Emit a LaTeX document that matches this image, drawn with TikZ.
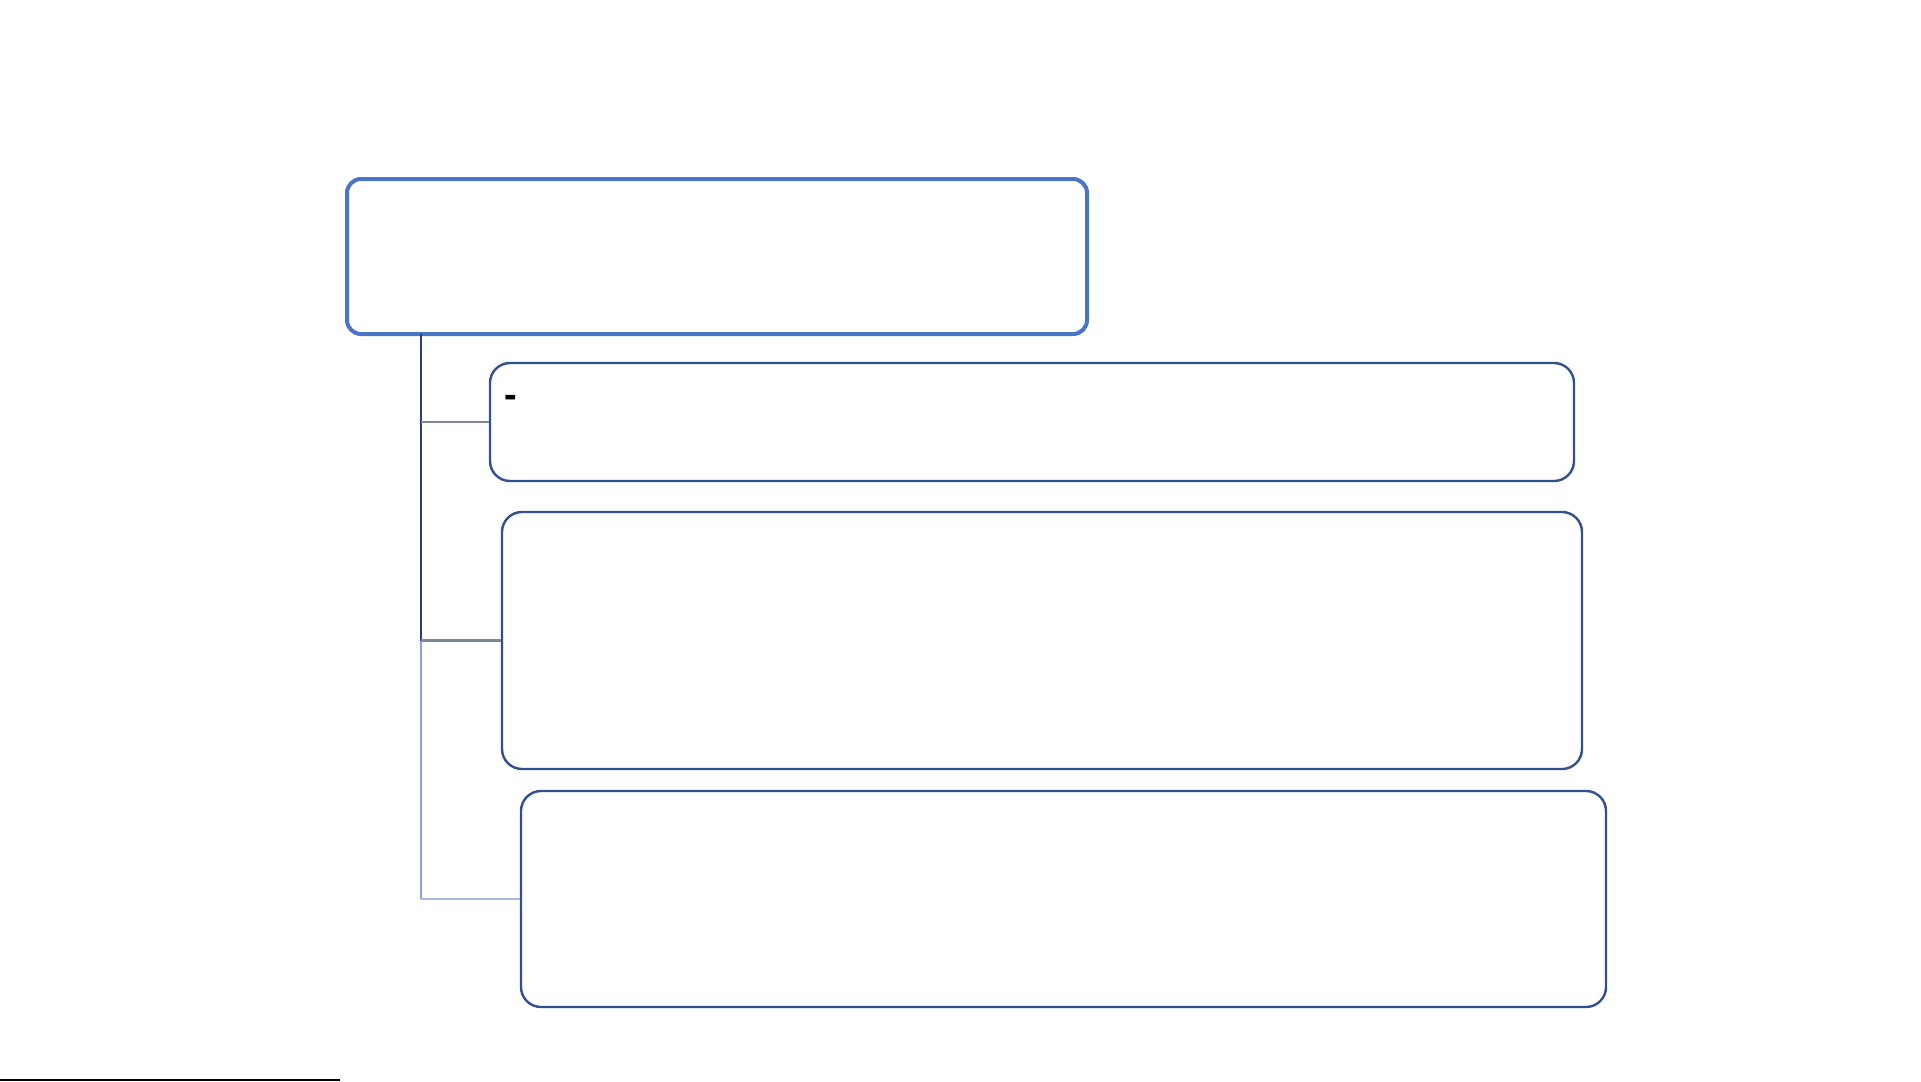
\documentclass[tikz,border=0pt]{standalone}
\usepackage{fontspec}
\setmainfont{Liberation Sans}
\definecolor{rootblue}{HTML}{4A74C6}
\definecolor{boxnavy}{HTML}{31508E}
\definecolor{trunkdark}{HTML}{2A3F70}
\definecolor{branchgray}{HTML}{7C8798}
\definecolor{trunklight}{HTML}{8DA2D4}
\definecolor{branchlight}{HTML}{A8B8E0}
\tikzset{
  rootbox/.style={draw=rootblue, line width=2pt, rounded corners=7pt, fill=white,
    minimum width=370pt, minimum height=77.5pt, inner sep=0pt},
  childbox/.style={draw=boxnavy, line width=1.2pt, rounded corners=10pt, fill=white, inner sep=0pt},
  conn/.style={line width=1.1pt}
}
\begin{document}
\begin{tikzpicture}[x=0.5pt,y=-0.5pt]
\useasboundingbox (0,0) rectangle (1921,1081);
\fill[white] (0,0) rectangle (1921,1081);
% nodes
\node[rootbox] (root) at (717,256.5) {};
\node[childbox, minimum width=542pt, minimum height=59pt] (c1) at (1032,422) {};
\node[childbox, minimum width=540pt, minimum height=128.5pt] (c2) at (1042,640.5) {};
\node[childbox, minimum width=542.5pt, minimum height=108pt] (c3) at (1063.5,899) {};
\node[anchor=west, inner sep=0pt, font=\fontsize{19}{19}\selectfont\bfseries] (dash) at (504,401) {-};
% connectors
\coordinate (t) at (421,334);
\coordinate (j1) at (c1.west -| t);
\coordinate (j2) at (c2.west -| t);
\coordinate (j3) at (c3.west -| t);
\draw[conn, trunkdark] (t) -- (j1) -- (j2);
\draw[conn, trunklight] (j2) -- (j3);
\draw[conn, branchgray] (j1) -- (c1.west);
\draw[conn, branchgray] (j2) -- (c2.west);
\draw[conn, branchlight] (j3) -- (c3.west);
% bottom edge artefact
\draw[black, line width=1pt] (0,1080) -- (340,1080);
\end{tikzpicture}
\end{document}
